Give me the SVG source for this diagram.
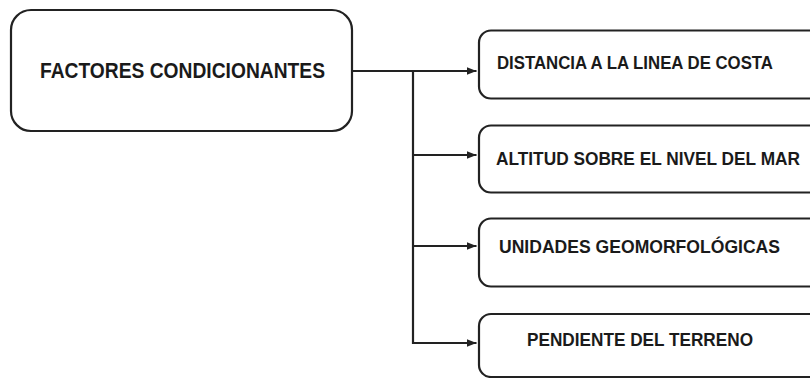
<svg xmlns="http://www.w3.org/2000/svg" width="810" height="378" viewBox="0 0 810 378">
  <defs>
    <style>
      .box { fill: #ffffff; stroke: #222222; stroke-width: 2.2; }
      .lbl { font-family: "Liberation Sans", Arial, sans-serif; font-weight: bold; fill: #1a1a1a; }
      .conn { fill: none; stroke: #222222; stroke-width: 2.2; }
    </style>
    <marker id="arr" viewBox="0 0 10 10" refX="10" refY="5" markerWidth="4.5" markerHeight="4.5" orient="auto" markerUnits="strokeWidth">
      <path d="M0,1 L10,5 L0,9 z" fill="#222222"/>
    </marker>
  </defs>
  <rect width="810" height="378" fill="#ffffff"/>

  <g id="node-factores">
    <rect class="box" x="11" y="10" width="341" height="121" rx="20" ry="20"/>
    <text class="lbl" x="40" y="77.5" font-size="22" textLength="285" lengthAdjust="spacingAndGlyphs">FACTORES CONDICIONANTES</text>
  </g>

  <g id="node-distancia">
    <rect class="box" x="479" y="30.5" width="360" height="68" rx="12" ry="12"/>
    <text class="lbl" x="497" y="69" font-size="17.5" textLength="276" lengthAdjust="spacingAndGlyphs">DISTANCIA A LA LINEA DE COSTA</text>
  </g>

  <g id="node-altitud">
    <rect class="box" x="479" y="125.5" width="360" height="67" rx="12" ry="12"/>
    <text class="lbl" x="496" y="165" font-size="17.5" textLength="304" lengthAdjust="spacingAndGlyphs">ALTITUD SOBRE EL NIVEL DEL MAR</text>
  </g>

  <g id="node-unidades">
    <rect class="box" x="479" y="218.5" width="360" height="68" rx="12" ry="12"/>
    <text class="lbl" x="499" y="253" font-size="17.5" textLength="281" lengthAdjust="spacingAndGlyphs">UNIDADES GEOMORFOLÓGICAS</text>
  </g>

  <g id="node-pendiente">
    <rect class="box" x="479" y="314" width="360" height="63" rx="12" ry="12"/>
    <text class="lbl" x="527" y="345.5" font-size="17.5" textLength="226" lengthAdjust="spacingAndGlyphs">PENDIENTE DEL TERRENO</text>
  </g>

  <g id="connectors">
    <path class="conn" d="M352,71 H476.5" marker-end="url(#arr)"/>
    <path class="conn" d="M413,71 V343 H476.5" marker-end="url(#arr)"/>
    <path class="conn" d="M413,155 H476.5" marker-end="url(#arr)"/>
    <path class="conn" d="M413,246 H476.5" marker-end="url(#arr)"/>
  </g>
</svg>
